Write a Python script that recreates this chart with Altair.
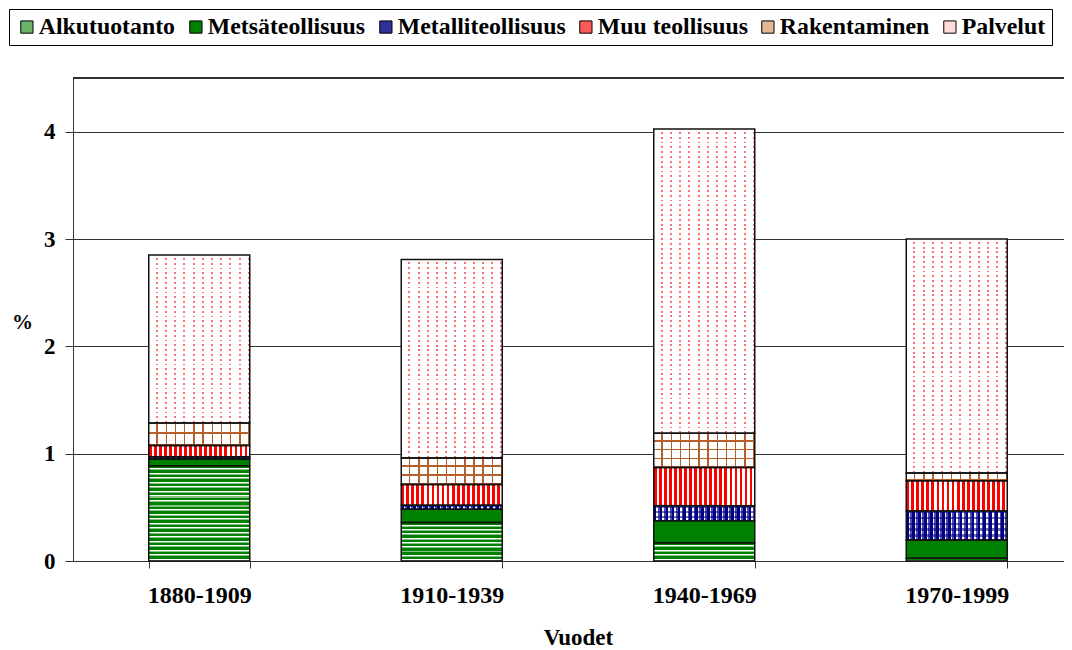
import altair as alt
import pandas as pd

periods = ["1880-1909", "1910-1939", "1940-1969", "1970-1999"]
categories = ["Alkutuotanto", "Metsäteollisuus", "Metalliteollisuus",
              "Muu teollisuus", "Rakentaminen", "Palvelut"]

alkutuotanto = [0.887, 0.358, 0.171, 0.025]
metsateollisuus = [0.063, 0.125, 0.203, 0.170]
metalliteollisuus = [0.022, 0.037, 0.140, 0.272]
muu_teollisuus = [0.105, 0.193, 0.358, 0.281]
rakentaminen = [0.208, 0.247, 0.318, 0.072]
palvelut = [1.565, 1.850, 2.835, 2.180]

series = [alkutuotanto, metsateollisuus, metalliteollisuus,
          muu_teollisuus, rakentaminen, palvelut]

legend_colors = ["#6ab46a", "#008000", "#30309a", "#ff5a5a", "#e2b896", "#ffdcdc"]

rows = []
for pi, p in enumerate(periods):
    acc = 0.0
    for ci, c in enumerate(categories):
        v = series[ci][pi]
        rows.append({"period": p, "category": c, "value": v,
                     "y0": acc, "y1": acc + v, "order": ci})
        acc += v
df = pd.DataFrame(rows)

PLOT_H = 483
Y_MAX = 4.5
PX = PLOT_H / Y_MAX


def stripes(n, segs, horizontal):
    n = max(1, int(n))
    stops = []
    for i in range(n):
        acc = 0.0
        for color, frac in segs:
            a = (i + acc) / n
            acc += frac
            b = (i + acc) / n
            stops.append({"offset": round(min(a, 1.0), 5), "color": color})
            stops.append({"offset": round(min(b, 1.0), 5), "color": color})
    return {"gradient": "linear", "x1": 0, "y1": 0,
            "x2": 0 if horizontal else 1, "y2": 1 if horizontal else 0,
            "stops": stops}


CLEAR = "rgba(255,255,255,0)"
BROWN = "#b5602a"

v_fill = {
    "Alkutuotanto": "#ffffff",
    "Metsäteollisuus": "#008000",
    "Metalliteollisuus": stripes(17, [("#000080", 0.45), ("#ffffff", 0.25), ("#5050b0", 0.30)], False),
    "Muu teollisuus": stripes(20, [("#ff0000", 0.55), ("#ffffff", 0.45)], False),
    "Rakentaminen": stripes(11, [("#ffffff", 0.84), (BROWN, 0.16)], False),
    "Palvelut": stripes(11, [("#ffffff", 0.78), ("#ff7070", 0.22)], False),
}
v_cond = [{"test": f"datum.category === '{c}'", "value": g} for c, g in v_fill.items()]

h_spec = {
    "Alkutuotanto": (4.5, [("#008000", 0.55), ("#ffffff", 0.2), ("#80c080", 0.25)]),
    "Metalliteollisuus": (6.0, [("rgba(0,0,128,0.55)", 0.4), (CLEAR, 0.6)]),
    "Rakentaminen": (9.2, [(CLEAR, 0.84), (BROWN, 0.16)]),
    "Palvelut": (4.8, [("#ffffff", 0.6), (CLEAR, 0.4)]),
}
h_cond = []
for ci, c in enumerate(categories):
    if c not in h_spec:
        continue
    period_px, segs = h_spec[c]
    for pi, p in enumerate(periods):
        h = series[ci][pi] * PX
        n = round(h / period_px)
        h_cond.append({"test": f"datum.category === '{c}' && datum.period === '{p}'",
                       "value": stripes(n, segs, True)})

FONT = "Liberation Serif"

y_axis = alt.Axis(title="%", values=[0, 1, 2, 3, 4], grid=True, gridColor="#333",
                  labelFont=FONT, labelFontSize=23, labelFontWeight="bold",
                  labelColor="black", labelPadding=10, tickSize=8,
                  tickColor="#333", domainColor="#333",
                  titleFont=FONT, titleFontSize=21, titleFontWeight="bold",
                  titleColor="black", titleAngle=0, titleX=-51, titleY=244,
                  titleAlign="center", titleBaseline="middle")
y_scale = alt.Scale(domain=[0, Y_MAX], nice=False)

base = alt.Chart(df).encode(
    x=alt.X("period:N", sort=periods,
            scale=alt.Scale(type="band", range=[0, 1010], paddingInner=0.6, paddingOuter=0.3),
            axis=alt.Axis(title="Vuodet", labelAngle=0, tickBand="extent", grid=False,
                          labelFont=FONT, labelFontSize=24, labelFontWeight="bold",
                          labelColor="black", labelPadding=15, tickSize=7,
                          tickColor="#333", domainColor="#333",
                          titleFont=FONT, titleFontSize=23, titleFontWeight="bold",
                          titleColor="black", titleX=505, titleY=83,
                          titleBaseline="alphabetic", titleAlign="center")),
    y=alt.Y("y0:Q", scale=y_scale, axis=y_axis),
    y2="y1:Q",
)

solid = base.mark_bar().encode(
    color=alt.Color("category:N", sort=categories,
                    scale=alt.Scale(domain=categories, range=legend_colors),
                    legend=alt.Legend(orient="none", legendX=-64, legendY=-69,
                                      direction="horizontal", title=None,
                                      strokeColor="black", fillColor="white", padding=6,
                                      symbolType="square", symbolSize=150,
                                      symbolStrokeColor="black", symbolStrokeWidth=1,
                                      symbolOpacity=1, labelLimit=400,
                                      labelFont=FONT, labelFontSize=23.8, labelFontWeight="bold",
                                      labelColor="black", labelOffset=0, columnPadding=8)),
)

vlayer = base.mark_bar().encode(fill=alt.FillValue("transparent", condition=v_cond))
hlayer = base.mark_bar().encode(fill=alt.FillValue("transparent", condition=h_cond))
outline = base.mark_bar(fillOpacity=0, stroke="#111", strokeWidth=1.5)

top_line = alt.Chart(df).mark_rule(color="#333", strokeWidth=1).encode(
    y=alt.Y(datum=Y_MAX, scale=y_scale, axis=y_axis))

chart = alt.layer(solid, vlayer, hlayer, outline, top_line).properties(
    width=991, height=PLOT_H,
    autosize=alt.AutoSizeParams(type="none"),
    padding={"left": 65, "top": 70, "right": 0, "bottom": 89},
).configure_view(stroke=None).configure(background="white")

chart.save("out.html", embed_options={"renderer": "svg", "actions": False})
